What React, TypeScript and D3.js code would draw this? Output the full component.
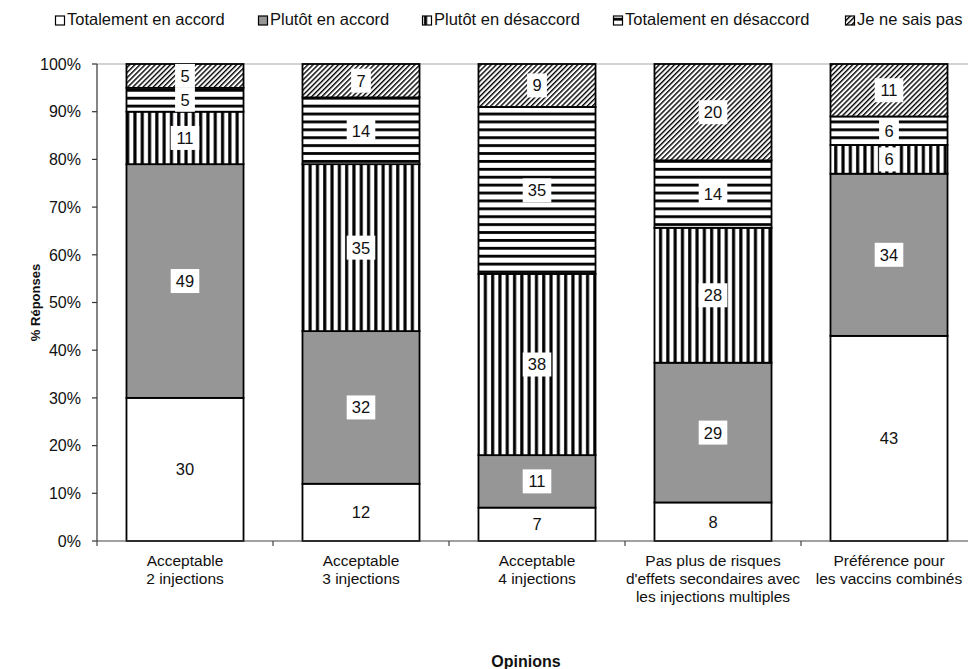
import React from "react";
import * as d3 from "d3";

const categories = [
  ["Acceptable", "2 injections"],
  ["Acceptable", "3 injections"],
  ["Acceptable", "4 injections"],
  ["Pas plus de risques", "d'effets secondaires avec", "les injections multiples"],
  ["Préférence pour", "les vaccins combinés"],
];

const seriesNames = [
  "Totalement en accord",
  "Plutôt en accord",
  "Plutôt en désaccord",
  "Totalement en désaccord",
  "Je ne sais pas",
];

const totAccord = [30, 12, 7, 8, 43];
const plutotAccord = [49, 32, 11, 29, 34];
const plutotDesaccord = [11, 35, 38, 28, 6];
const totDesaccord = [5, 14, 35, 14, 6];
const neSaisPas = [5, 7, 9, 20, 11];

const yTicks = [0, 10, 20, 30, 40, 50, 60, 70, 80, 90, 100];

const W = 968;
const H = 669;
const FONT = "'Liberation Sans', Arial, Helvetica, sans-serif";

const fills = ["#ffffff", "#969696", "url(#pVert)", "url(#pHoriz)", "url(#pDiag)"];

export default function App() {
  const seriesValues = [totAccord, plutotAccord, plutotDesaccord, totDesaccord, neSaisPas];
  const rows = categories.map((c, i) => {
    const r: Record<string, number> = { idx: i };
    seriesNames.forEach((s, k) => (r[s] = seriesValues[k][i]));
    return r;
  });

  // 100% stacked: each bar normalised to its own total
  const stacked = d3.stack<Record<string, number>>().keys(seriesNames).offset(d3.stackOffsetExpand)(rows);

  const x = d3
    .scaleBand<number>()
    .domain(categories.map((_, i) => i))
    .range([97, 977])
    .paddingInner(0.335)
    .paddingOuter(0.1675);

  const y = d3.scaleLinear().domain([0, 1]).range([541, 64]);
  const yPct = d3.scaleLinear().domain([0, 100]).range([541, 64]);

  const step = x.step();
  const boundaries = d3.range(categories.length + 1).map((i) => 97 + i * step);

  const legendX = [55, 258, 422, 613, 845];

  return (
    <svg
      width={W}
      height={H}
      style={{ position: "absolute", left: 0, top: 0, background: "#fff" }}
      fontFamily={FONT}
    >
      <defs>
        <pattern id="pVert" patternUnits="userSpaceOnUse" width={7.3} height={10}>
          <rect width={7.3} height={10} fill="#fff" />
          <rect x={2} width={3.1} height={10} fill="#000" />
        </pattern>
        <pattern id="pHoriz" patternUnits="userSpaceOnUse" width={10} height={7.9}>
          <rect width={10} height={7.9} fill="#fff" />
          <rect y={2} width={10} height={2.8} fill="#000" />
        </pattern>
        <pattern
          id="pDiag"
          patternUnits="userSpaceOnUse"
          width={3.6}
          height={10}
          patternTransform="rotate(45)"
        >
          <rect width={3.6} height={10} fill="#fff" />
          <rect x={0} width={1.4} height={10} fill="#000" />
        </pattern>
      </defs>

      {/* top border line */}
      <line x1={97} x2={W} y1={64} y2={64} stroke="#a8a8a8" strokeWidth={1.2} />

      {/* bars */}
      {stacked.map((layer, k) => (
        <g key={layer.key}>
          {layer.map((d, i) => (
            <rect
              key={i}
              x={x(i)}
              y={y(d[1])}
              width={x.bandwidth()}
              height={y(d[0]) - y(d[1])}
              fill={fills[k]}
              stroke="#000"
              strokeWidth={1.8}
            />
          ))}
        </g>
      ))}

      {/* value labels */}
      {stacked.map((layer, k) => (
        <g key={"l" + layer.key}>
          {layer.map((d, i) => {
            const v = seriesValues[k][i];
            const cx = x(i)! + x.bandwidth() / 2;
            const cy = (y(d[0]) + y(d[1])) / 2;
            const w = String(v).length * 8.8 + 11;
            return (
              <g key={i}>
                <rect x={cx - w / 2} y={cy - 12} width={w} height={24} fill="#fff" />
                <text x={cx} y={cy} dy="0.36em" textAnchor="middle" fontSize={16.5} fill="#111">
                  {v}
                </text>
              </g>
            );
          })}
        </g>
      ))}

      {/* y axis */}
      <line x1={97} x2={97} y1={64} y2={541} stroke="#333" strokeWidth={1.2} />
      {yTicks.map((t) => (
        <g key={t}>
          <line x1={92} x2={97} y1={yPct(t)} y2={yPct(t)} stroke="#333" strokeWidth={1.2} />
          <text x={81} y={yPct(t)} dy="0.36em" textAnchor="end" fontSize={16} fill="#111">
            {t}%
          </text>
        </g>
      ))}

      {/* x axis */}
      <line x1={97} x2={W} y1={541} y2={541} stroke="#444" strokeWidth={1.2} />
      {boundaries.map((b, i) => (
        <line key={i} x1={b} x2={b} y1={541} y2={546} stroke="#444" strokeWidth={1.2} />
      ))}
      {categories.map((lines, i) => (
        <text key={i} textAnchor="middle" fontSize={15.5} fill="#111">
          {lines.map((ln, j) => (
            <tspan key={j} x={x(i)! + x.bandwidth() / 2} y={566 + j * 18}>
              {ln}
            </tspan>
          ))}
        </text>
      ))}

      {/* axis titles */}
      <text x={526} y={667} textAnchor="middle" fontSize={16} fontWeight="bold" fill="#111">
        Opinions
      </text>
      <text
        transform={`translate(40,${yPct(50)}) rotate(-90)`}
        textAnchor="middle"
        fontSize={13}
        fontWeight="bold"
        fill="#111"
      >
        % Réponses
      </text>

      {/* legend */}
      {seriesNames.map((s, k) => (
        <g key={s} transform={`translate(${legendX[k]},0)`}>
          <rect x={0.5} y={16} width={9} height={9} fill={fills[k]} stroke="#000" strokeWidth={1.2} />
          <text x={12} y={24.5} fontSize={16.5} fill="#111">
            {s}
          </text>
        </g>
      ))}
    </svg>
  );
}
